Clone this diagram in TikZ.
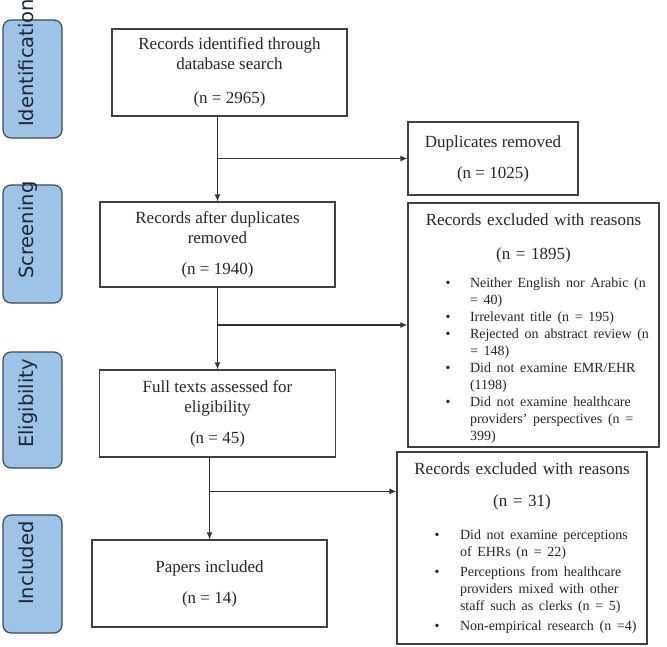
\documentclass[tikz,border=0pt]{standalone}
\usepackage{fontspec}
\setmainfont{Liberation Serif}
\newfontfamily\stagefamily{DejaVu Sans}
\usepackage{enumitem}
\usetikzlibrary{arrows.meta}

\definecolor{stagefill}{HTML}{9DC3E6}
\definecolor{stageline}{HTML}{3B4A5E}
\definecolor{stageink}{HTML}{1E2638}
\definecolor{boxline}{HTML}{404040}

\newcommand\mainfs{\fontsize{17}{20}\selectfont}
\newcommand\listfs{\fontsize{14}{17}\selectfont}
\newcommand\stagefs{\stagefamily\fontsize{19.5}{22}\selectfont}

\tikzset{
  stage/.style={draw=stageline, fill=stagefill, rounded corners=8pt, line width=1.2pt, minimum width=59pt},
  stagelabel/.style={rotate=90, anchor=base west, inner sep=0pt, font=\stagefs, text=stageink},
  flowbox/.style={draw=boxline, line width=1.2pt, align=center, font=\mainfs, text=black!85},
  exclbox/.style={draw=boxline, line width=1.2pt, inner xsep=10pt, font=\mainfs, text=black!85},
  flowarrow/.style={draw=black!80, line width=1.2pt, -{Latex[length=7pt,width=6pt]}}
}

\begin{document}
\begin{tikzpicture}[x=1pt,y=-1pt]
  \useasboundingbox (0,0) rectangle (667,646);

  % stage labels
  \node[stage, minimum height=118pt] (stageid) at (32.5,79) {};
  \node[stagelabel] (stageidtext) at (33.5,127) {Identification};
  \node[stage, minimum height=118pt] (stagescr) at (32.5,244) {};
  \node[stagelabel] (stagescrtext) at (33.5,279) {Screening};
  \node[stage, minimum height=116pt] (stageel) at (32.5,410) {};
  \node[stagelabel] (stageeltext) at (33.5,448) {Eligibility};
  \node[stage, minimum height=118pt] (stagein) at (32.5,574) {};
  \node[stagelabel] (stageintext) at (33.5,605) {Included};

  % main column
  \node[flowbox, minimum width=235pt, minimum height=87pt] (ident) at (229.5,72.5)
    {Records identified through\\database search\\[14pt](n = 2965)};
  \node[flowbox, minimum width=235pt, minimum height=85pt] (screen) at (217.5,244.5)
    {Records after duplicates\\removed\\[11pt](n = 1940)};
  \node[flowbox, minimum width=236pt, minimum height=87pt] (full) at (217.5,413.5)
    {Full texts assessed for\\eligibility\\[11pt](n = 45)};
  \node[flowbox, minimum width=235pt, minimum height=87pt] (incl) at (209.5,583.5)
    {Papers included\\[11pt](n = 14)};

  % right column
  \node[flowbox, minimum width=170pt, minimum height=73pt] (dup) at (493,158.5)
    {Duplicates removed\\[11pt](n = 1025)};
  \node[exclbox, text width=231pt, minimum height=244pt] (exclone) at (533.5,325) {%
    {\centering\rule{0pt}{19.5pt}Records excluded with reasons\\[14pt](n = 1895)\par}
    \vspace{11pt}
    {\listfs\raggedright
    \begin{itemize}[nosep, leftmargin=52pt, labelsep=19.5pt, label=\textbullet]
      \item Neither English nor Arabic (n = 40)
      \item Irrelevant title (n = 195)
      \item Rejected on abstract review (n = 148)
      \item Did not examine EMR/EHR (1198)
      \item Did not examine healthcare providers’ perspectives (n = 399)
    \end{itemize}\par}};
  \node[exclbox, text width=230pt, minimum height=192pt] (excltwo) at (522,548) {%
    {\centering Records excluded with reasons\\[12pt](n = 31)\par}
    \vspace{16pt}
    {\listfs\raggedright
    \begin{itemize}[nosep, leftmargin=53pt, rightmargin=-6pt, labelsep=20.5pt, label=\textbullet, itemsep=3pt]
      \item Did not examine perceptions\newline of EHRs (n = 22)
      \item Perceptions from healthcare\newline providers mixed with other\newline staff such as clerks (n = 5)
      \item Non-empirical research (n =4)
    \end{itemize}\par}};

  % connectors
  \coordinate (excltwoin) at ([yshift=-40pt]excltwo.north west);
  \draw[flowarrow] (screen.north |- ident.south) -- (screen.north);
  \draw[flowarrow] (screen.north |- dup.west) -- (dup.west);
  \draw[flowarrow] (full.north |- screen.south) -- (full.north);
  \draw[flowarrow] (full.north |- exclone.west) -- (exclone.west);
  \draw[flowarrow] (incl.north |- full.south) -- (incl.north);
  \draw[flowarrow] (incl.north |- excltwoin) -- (excltwoin);
\end{tikzpicture}
\end{document}
